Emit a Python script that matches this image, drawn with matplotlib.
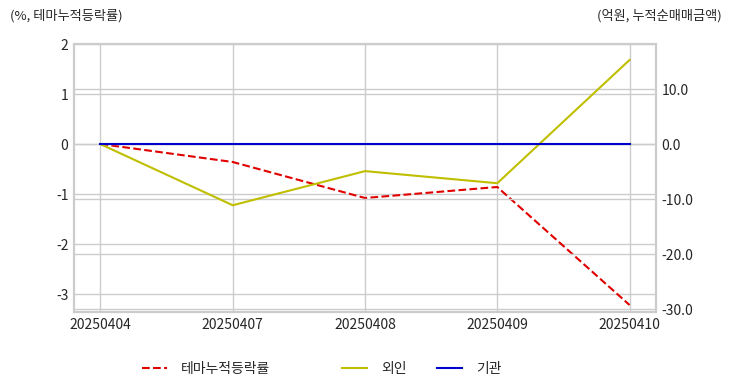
import matplotlib.pyplot as plt

plt.rcParams['font.family'] = ['Noto Sans CJK KR', 'DejaVu Sans']
plt.rcParams['axes.unicode_minus'] = False

dates = ['20250404', '20250407', '20250408', '20250409', '20250410']
theme_return = [0.0, -0.36, -1.08, -0.86, -3.22]
foreign = [0.0, -11.1, -4.9, -7.1, 15.3]
institution = [0.0, 0.0, 0.0, 0.0, 0.0]

grid_c = '#cccccc'
text_c = '#262626'

fig = plt.figure(figsize=(7.32, 3.92), dpi=100)
ax = fig.add_axes([74 / 732, 1 - 312 / 392, (656 - 74) / 732, (312 - 44) / 392])
ax2 = ax.twinx()

x = range(len(dates))
l1, = ax.plot(x, theme_return, color='#e00000', linestyle='--', linewidth=1.5, label='테마누적등락률')
l2, = ax2.plot(x, foreign, color='#bfbf00', linewidth=1.5, label='외인')
l3, = ax2.plot(x, institution, color='#0000cc', linewidth=1.5, label='기관')

ax.set_xlim(-0.2, 4.2)
ax.set_ylim(-3.36, 2)
ax2.set_ylim(-30.5, 18.2)
ax.set_xticks(list(x))
ax.set_xticklabels(dates)
ax.set_yticks([-3, -2, -1, 0, 1, 2])
ax2.set_yticks([-30, -20, -10, 0, 10])
ax2.set_yticklabels([f'{v:.1f}' for v in [-30, -20, -10, 0, 10]])

for a in (ax, ax2):
    a.grid(True, color=grid_c, linewidth=1)
    a.set_axisbelow(True)
    for s in a.spines.values():
        s.set_color(grid_c)
        s.set_linewidth(1.5)
    a.tick_params(length=0, labelsize=10, colors=text_c, pad=4)
ax2.xaxis.grid(False)

fig.text(10 / 732, 1 - 16 / 392, '(%, 테마누적등락률)', fontsize=9.5, color=text_c, va='center', ha='left')
fig.text(722 / 732, 1 - 16 / 392, '(억원, 누적순매매금액)', fontsize=9.5, color=text_c, va='center', ha='right')

leg1 = fig.legend(handles=[l1], loc='center', bbox_to_anchor=(206 / 732, 1 - 369 / 392),
                  frameon=False, fontsize=10, handlelength=1.8, handletextpad=1.0)
leg2 = fig.legend(handles=[l2, l3], loc='center', bbox_to_anchor=(422 / 732, 1 - 369 / 392),
                  frameon=False, fontsize=10, ncol=2, handlelength=1.8, handletextpad=1.0,
                  columnspacing=2.2)
for leg in (leg1, leg2):
    for t in leg.get_texts():
        t.set_color(text_c)

fig.savefig('out.png', dpi=100)
